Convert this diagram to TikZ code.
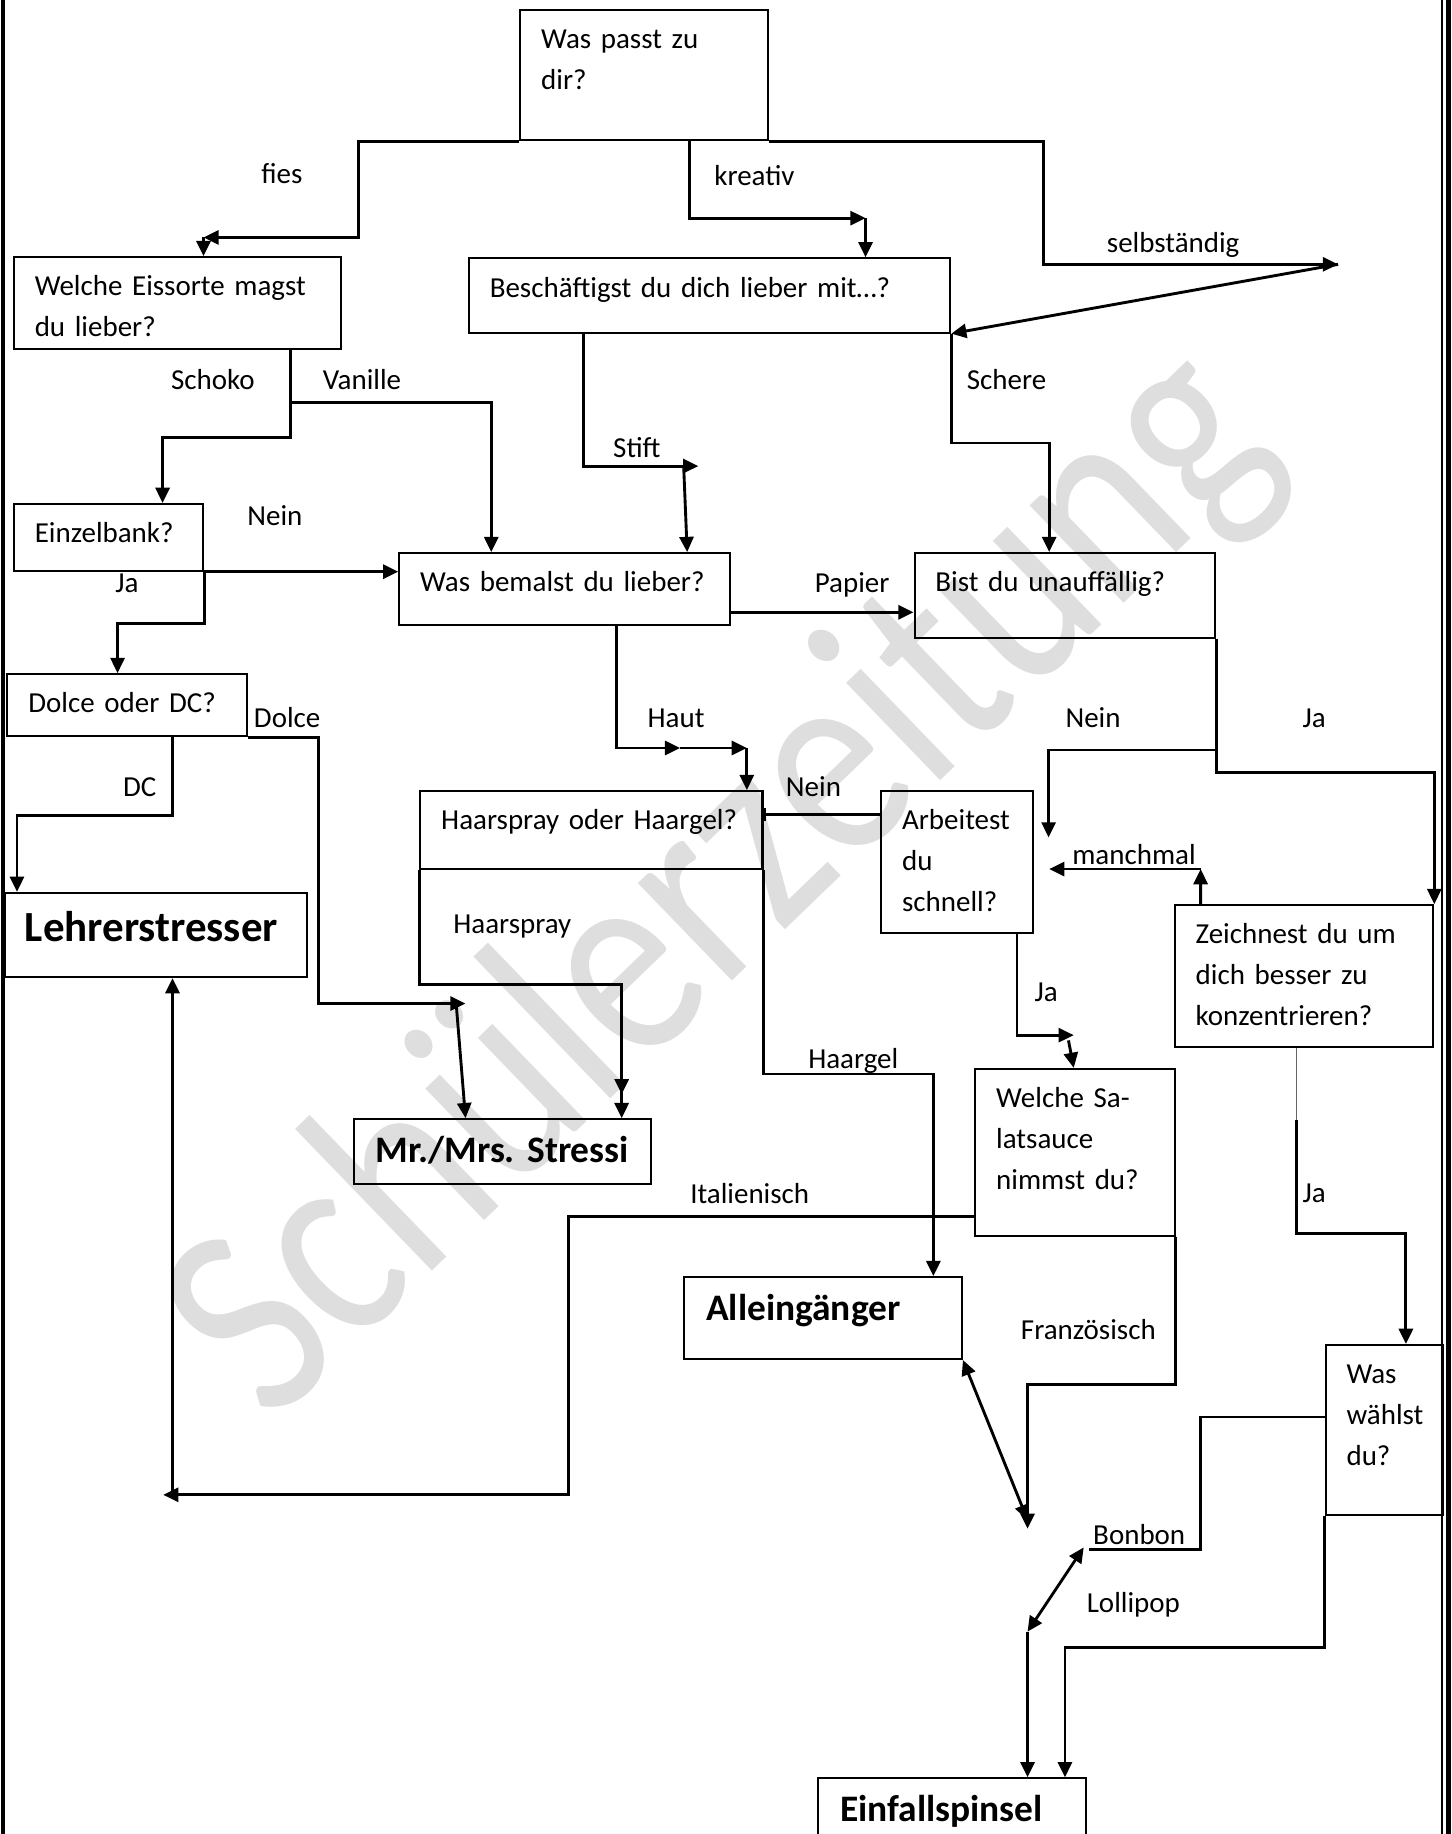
\documentclass[tikz,border=0pt]{standalone}
\usepackage{fontspec}
\setmainfont{Carlito}
\usepackage{tikz}
\usetikzlibrary{
	arrows.meta,
	calc,
	positioning,
}
\newcommand{\qsize}{\fontsize{14.1}{19.9}\selectfont}
\newcommand{\rsize}{\fontsize{18.2}{22}\selectfont\bfseries}
\newcommand{\lsize}{\fontsize{20.9}{25}\selectfont\bfseries}
\tikzset{question/.style={
	draw,
	rectangle,
	line width=1pt,
	anchor=north west,
	inner sep=0mm,
}}
\tikzset{question text/.style={
	anchor=base west,
	align=left,
	text width=7.5cm,
	inner sep=0mm,
	xshift=3.5mm,
	yshift=-6.8mm,
	font=\qsize,
}}
\tikzset{result text/.style={
	anchor=base west,
	align=left,
	text width=7.5cm,
	inner sep=0mm,
	xshift=3.7mm,
	yshift=-7.6mm,
	font=\rsize,
}}
\tikzset{answer/.style={
	inner sep=0mm,
	text height=9pt,
	text depth=0pt,
	font=\qsize,
}}
\tikzset{two tips/.style={
	-{Triangle[length=2.6mm,width=2.4mm,sep=1.5mm]Triangle[length=2.6mm,width=2.4mm]},
}}

\begin{document}
\begin{tikzpicture}[>={Triangle[length=2.6mm,width=2.4mm]}, line width=1.4pt]

\path[use as bounding box, clip] (0,0) rectangle (24.82,-31.36);

% watermark
\node[rotate=44, inner sep=0mm, text=black!13, font=\fontsize{138}{138}\selectfont]
	(wasserzeichen) at (12.40,-15.14) {\scalebox{0.83}[1]{Schülerzeitung}};

% frame
\draw[line width=1.6pt] (0.05,0) -- (0.05,-31.36);
\draw[line width=1pt] (24.65,0) -- (24.65,-31.36);
\draw[line width=2.6pt] (24.77,0) -- (24.77,-31.36);

% questions
\node[question, minimum width=4.23cm, minimum height=2.23cm,
	label={[question text]north west:Was passt zu\\dir?}] (start) at (8.88,-0.15) {};
\node[question, minimum width=5.59cm, minimum height=1.57cm,
	label={[question text]north west:Welche Eissorte magst\\du lieber?}] (eis) at (0.22,-4.38) {};
\node[question, minimum width=8.23cm, minimum height=1.27cm,
	label={[question text]north west:Beschäftigst du dich lieber mit…?}] (besch) at (8.00,-4.40) {};
\node[question, minimum width=3.24cm, minimum height=1.14cm,
	label={[question text]north west:Einzelbank?}] (einzel) at (0.22,-8.60) {};
\node[question, minimum width=5.65cm, minimum height=1.23cm,
	label={[question text]north west:Was bemalst du lieber?}] (bemal) at (6.81,-9.44) {};
\node[question, minimum width=5.14cm, minimum height=1.45cm,
	label={[question text]north west:Bist du unauffällig?}] (bist) at (15.62,-9.44) {};
\node[question, minimum width=4.09cm, minimum height=1.06cm,
	label={[question text]north west:Dolce oder DC?}] (dolce) at (0.11,-11.51) {};
\node[question, minimum width=5.85cm, minimum height=1.33cm,
	label={[question text]north west:Haarspray oder Haargel?}] (haar) at (7.17,-13.51) {};
\node[question, minimum width=2.60cm, minimum height=2.42cm,
	label={[question text]north west:Arbeitest\\du\\schnell?}] (arbeit) at (15.05,-13.51) {};
\node[question, minimum width=4.42cm, minimum height=2.43cm,
	label={[question text]north west:Zeichnest du um\\dich besser zu\\konzentrieren?}] (zeich) at (20.07,-15.46) {};
\node[question, minimum width=3.41cm, minimum height=2.85cm,
	label={[question text]north west:Welche Sa-\\latsauce\\nimmst du?}] (salat) at (16.66,-18.26) {};
\node[question, minimum width=2.00cm, minimum height=2.91cm,
	label={[question text]north west:Was\\wählst\\du?}] (waehl) at (22.65,-22.98) {};

% results
\node[question, minimum width=5.17cm, minimum height=1.44cm,
	label={[result text, yshift=-0.9mm, xshift=-0.3mm, font=\lsize]north west:Lehrerstresser}] (lehrer) at (0.06,-15.25) {};
\node[question, minimum width=5.08cm, minimum height=1.11cm,
	label={[result text]north west:Mr./Mrs.\ Stressi}] (stressi) at (6.03,-19.12) {};
\node[question, minimum width=4.75cm, minimum height=1.40cm,
	label={[result text]north west:Alleingänger}] (allein) at (11.68,-21.82) {};
\node[question, minimum width=4.58cm, minimum height=1.50cm,
	label={[result text]north west:Einfallspinsel}] (einfall) at (13.97,-30.39) {};

% start -> eis
\coordinate (fiesknick) at (3.48,-4.06);
\draw[->] (start.south west) -| (6.13,-4.06) -- (fiesknick);
\draw[->] (fiesknick) -- (fiesknick |- eis.north);
\node[answer] (fies) at (4.82,-2.98) {fies};

% start -> besch
\coordinate (kreativknick) at (14.80,-3.73);
\draw[->] ([xshift=2.91cm]start.south west) |- (kreativknick);
\draw[->] (kreativknick) -- (kreativknick |- besch.north);
\node[answer] (kreativ) at (12.90,-3.01) {kreativ};

% start -> selbstaendig -> besch
\coordinate (selbknick) at (22.88,-4.52);
\draw[->] (start.south east) -| (17.84,-4.52) -- (selbknick);
\draw[->] (selbknick) -- (besch.south east);
\node[answer] (selbst) at (20.06,-4.16) {selbständig};

% eis -> einzel
\draw[->] ([xshift=4.74cm]eis.south west) -- ++(0,-1.49) -| ([xshift=2.56cm]einzel.north west);
\node[answer] (schoko) at (3.64,-6.51) {Schoko};

% eis -> bemal
\draw[->] ([xshift=4.74cm,yshift=-0.89cm]eis.south west) -| ([xshift=1.59cm]bemal.north west);
\node[answer] (vanille) at (6.19,-6.51) {Vanille};

% besch -> bemal
\coordinate (stiftknick) at (11.94,-7.97);
\draw[->] ([xshift=1.97cm]besch.south west) |- (stiftknick);
\draw[->] ([xshift=-0.25cm]stiftknick) -- ([xshift=4.94cm]bemal.north west);
\node[answer] (stift) at (10.89,-7.66) {Stift};

% besch -> bist
\draw[->] (besch.south east) -- ++(0,-1.87) -| ([xshift=2.32cm]bist.north west);
\node[answer] (schere) at (17.21,-6.51) {Schere};

% einzel -> bemal, einzel -> dolce
\draw[->] (einzel.south east) -- (einzel.south east -| bemal.west);
\node[answer] (neinA) at (4.70,-8.83) {Nein};
\draw[->] (einzel.south east) -- ++(0,-0.88) -| ([xshift=1.90cm]dolce.north west);
\node[answer] (jaA) at (2.17,-9.98) {Ja};

% dolce -> lehrer
\draw[->] ([xshift=2.84cm]dolce.south west) -- ++(0,-1.34) -| ([xshift=0.23cm]lehrer.north west);
\node[answer] (dc) at (2.39,-13.46) {DC};

% dolce -> stressi
\coordinate (dolceknick) at (7.96,-17.16);
\draw[->] (dolce.south east) -| (5.45,-17.16) -- (dolceknick);
\draw[->] ([xshift=-0.16cm]dolceknick) -- ([xshift=1.93cm]stressi.north west);
\node[answer] (dolcelabel) at (4.91,-12.29) {Dolce};

% bemal -> bist
\draw[->] ([yshift=-1.03cm]bemal.north east) -- ([yshift=-1.03cm]bist.north west);
\node[answer] (papier) at (14.57,-9.98) {Papier};

% bemal -> haar
\coordinate (hautmitte) at (11.63,-12.79);
\coordinate (hautknick) at (12.77,-12.79);
\draw[->] ([xshift=3.73cm]bemal.south west) |- (hautmitte);
\draw[->] (hautmitte) -- (hautknick);
\draw[->] (hautknick) -- (hautknick |- haar.north);
\node[answer] (haut) at (11.56,-12.29) {Haut};

% bist -> arbeit, bist -> zeich
\coordinate (neinende) at (17.93,-14.32);
\draw[->] (bist.south east) -- ++(0,-1.90) -| (neinende);
\node[answer] (neinB) at (18.69,-12.29) {Nein};
\draw[->] (bist.south east) -- ++(0,-2.28) -| (zeich.north east);
\node[answer] (jaB) at (22.47,-12.29) {Ja};

% zeich -> arbeit
\coordinate (manchknick) at (20.53,-14.86);
\coordinate (manchende) at (17.94,-14.86);
\draw[->] ([xshift=0.46cm]zeich.north west) -- (manchknick);
\draw[->] (manchknick) -- (manchende);
\node[answer] (manchmal) at (19.39,-14.63) {manchmal};

% arbeit -> haar
\coordinate (arbeitnein) at ([yshift=-0.41cm]arbeit.north west);
\draw[-{Bar[width=2.2mm]}] (arbeitnein) -- (arbeitnein -| haar.east);
\node[answer] (neinC) at (13.91,-13.46) {Nein};

% arbeit -> salat
\coordinate (jaknick) at (18.36,-17.70);
\draw[->] ([xshift=2.34cm]arbeit.south west) |- (jaknick);
\draw[->] ([xshift=-0.09cm,yshift=-0.09cm]jaknick) -- ([xshift=1.70cm]salat.north west);
\node[answer] (jaC) at (17.89,-16.96) {Ja};

% haar -> stressi
\draw[two tips] (haar.south west) -- ++(0,-1.96) -| ([xshift=4.60cm]stressi.north west);
\node[answer] (haarspray) at (8.76,-15.81) {Haarspray};

% haar -> allein
\draw[->] (haar.south east) -- ++(0,-3.49) -| ([xshift=4.28cm]allein.north west);
\node[answer] (haargel) at (14.59,-18.11) {Haargel};

% salat -> lehrer
\coordinate (italknick) at (2.95,-25.56);
\draw[->] ([yshift=-2.54cm]salat.north west) -| (9.72,-25.56) -- ([xshift=-0.16cm]italknick);
\draw[->] (italknick) -- (italknick |- lehrer.south);
\node[answer] (italienisch) at (12.82,-20.42) {Italienisch};

% salat -> allein
\coordinate (franzende) at (17.57,-26.14);
\draw[->] (salat.south east) -- ++(0,-2.53) -| (franzende);
\draw[<->] (allein.south east) -- ([yshift=0.15cm]franzende);
\node[answer] (franz) at (18.61,-22.74) {Französisch};

% zeich -> waehl
\draw[line width=0.6pt, black!60] ([xshift=2.10cm]zeich.south west) -- ++(0,-1.22);
\draw[->] ([xshift=2.10cm,yshift=-1.22cm]zeich.south west) -- ++(0,-1.94) -| ([xshift=1.39cm]waehl.north west);
\node[answer] (jaD) at (22.47,-20.41) {Ja};

% waehl -> einfall
\coordinate (bonbonende) at (18.53,-26.46);
\coordinate (lolliknick) at (17.57,-27.90);
\draw ([yshift=-1.25cm]waehl.north west) -| (20.52,-26.49) -- (18.62,-26.49);
\draw[<->] (bonbonende) -- (lolliknick);
\draw[->] (lolliknick) -- (lolliknick |- einfall.north);
\node[answer] (bonbon) at (19.48,-26.25) {Bonbon};
\draw[->] (waehl.south west) -- ++(0,-2.25) -| ([xshift=4.24cm]einfall.north west);
\node[answer] (lollipop) at (19.38,-27.41) {Lollipop};

\end{tikzpicture}
\end{document}
